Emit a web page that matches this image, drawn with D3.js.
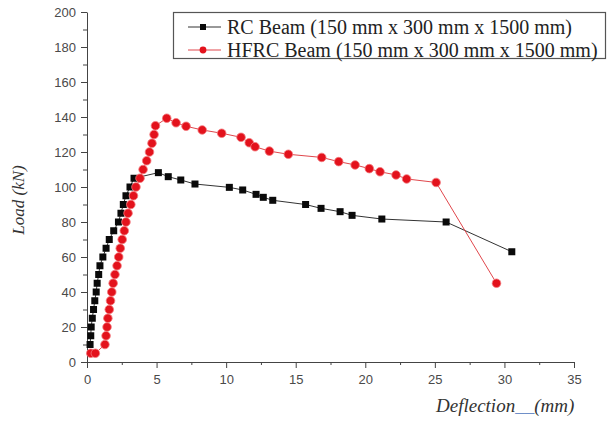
<!DOCTYPE html>
<html>
<head>
<meta charset="utf-8">
<script src="https://cdn.jsdelivr.net/npm/d3@7"></script>
<style>
  body { margin: 0; background: #fff; }
  svg { display: block; }
</style>
</head>
<body>
<div id="chart"></div>
<script>
/* global d3 */
var xTicks = [0, 5, 10, 15, 20, 25, 30, 35];
var yTicks = [0, 20, 40, 60, 80, 100, 120, 140, 160, 180, 200];

var rcLabel = "RC Beam (150 mm x 300 mm x 1500 mm)";
var hfrcLabel = "HFRC Beam (150 mm x 300 mm x 1500 mm)";

// RC beam, deflection (mm) / load (kN)
var rcDeflection = [0.22, 0.27, 0.30, 0.38, 0.47, 0.56, 0.66, 0.73, 0.84, 0.93,
  1.14, 1.37, 1.60, 1.92, 2.26, 2.44, 2.61, 2.80, 3.09, 3.38,
  5.13, 5.84, 6.74, 7.76, 10.23, 11.19, 12.15, 12.67, 13.35, 15.71,
  16.82, 18.19, 19.05, 21.19, 25.81, 30.53];
var rcLoad = [10, 15, 20, 25, 30, 35, 40, 45, 50, 55,
  60, 65, 70, 75, 80, 85, 90, 95, 100, 105,
  108.2, 105.9, 104, 101.7, 99.8, 98.3, 95.8, 94.1, 92.4, 90,
  87.8, 85.9, 83.8, 81.7, 80, 63];

// HFRC beam, deflection (mm) / load (kN)
var hfrcDeflection = [0.27, 0.6, 1.29, 1.37, 1.44, 1.50, 1.60, 1.69, 1.78, 1.88,
  2.01, 2.16, 2.28, 2.39, 2.53, 2.68, 2.80, 2.95, 3.15, 3.34,
  3.52, 3.81, 4.03, 4.29, 4.49, 4.67, 4.82, 4.92, 5.73, 6.40,
  7.12, 8.28, 9.68, 11.07, 11.66, 12.08, 13.11, 14.47, 16.87, 18.09,
  19.27, 20.29, 21.06, 22.21, 22.97, 25.09, 29.43];
var hfrcLoad = [5, 5, 10, 15, 20, 25, 30, 35, 40, 45,
  50, 55, 60, 65, 70, 75, 80, 85, 90, 95,
  100, 105, 110, 115, 120, 125, 130, 135, 139.3, 136.7,
  134.7, 132.6, 130.7, 128.4, 125.3, 123, 120.5, 118.7, 116.9, 114.5,
  112.6, 110.5, 108.7, 106.9, 104.6, 102.6, 45];

var width = 608,
  height = 421,
  margin = {top: 12, right: 34, bottom: 59, left: 87};

var svg = d3.select("#chart").append("svg")
  .attr("width", width)
  .attr("height", height);

var xScale = d3.scaleLinear().domain([0, 35]).range([margin.left, width - margin.right]);
var yScale = d3.scaleLinear().domain([0, 200]).range([height - margin.bottom, margin.top]);

function pairs(xs, ys) {
  return xs.map(function (d, i) { return [d, ys[i]]; });
}
var rcData = pairs(rcDeflection, rcLoad);
var hfrcData = pairs(hfrcDeflection, hfrcLoad);

// minor ticks first, majors drawn over them
svg.append("g")
  .attr("transform", "translate(0," + yScale(0) + ")")
  .call(d3.axisBottom(xScale).tickValues(d3.range(2.5, 35, 5)).tickSize(3).tickFormat(""))
  .call(function (g) { g.select(".domain").remove(); });
svg.append("g")
  .attr("transform", "translate(" + xScale(0) + ",0)")
  .call(d3.axisLeft(yScale).tickValues(d3.range(10, 200, 20)).tickSize(4).tickFormat(""))
  .call(function (g) { g.select(".domain").remove(); });

svg.append("g")
  .attr("class", "x axis")
  .attr("transform", "translate(0," + yScale(0) + ")")
  .call(d3.axisBottom(xScale).tickValues(xTicks).tickSize(6).tickSizeOuter(0).tickPadding(7));

svg.append("g")
  .attr("class", "y axis")
  .attr("transform", "translate(" + xScale(0) + ",0)")
  .call(d3.axisLeft(yScale).tickValues(yTicks).tickSize(6).tickSizeOuter(0).tickPadding(5));

svg.selectAll(".axis text")
  .style("font-family", "Arial, 'Liberation Sans', sans-serif")
  .style("font-size", "13px")
  .attr("fill", "#4a4a4a");
svg.selectAll("path.domain, .tick line").attr("stroke", "#444");

// axis titles
svg.append("text")
  .attr("transform", "translate(24," + 200 + ") rotate(-90)")
  .attr("text-anchor", "middle")
  .style("font-family", "'Liberation Serif', 'Times New Roman', serif")
  .style("font-style", "italic")
  .style("font-size", "17px")
  .attr("fill", "#333")
  .text("Load (kN)");

var xTitle = svg.append("text")
  .attr("x", 436)
  .attr("y", 412)
  .style("font-family", "'Liberation Serif', 'Times New Roman', serif")
  .style("font-style", "italic")
  .style("font-size", "19px")
  .attr("fill", "#333");
xTitle.append("tspan").text("Deflection");
xTitle.append("tspan").attr("fill", "#6f8fc8").text("__");
xTitle.append("tspan").text("(mm)");

// series lines
var line = d3.line()
  .x(function (d) { return xScale(d[0]); })
  .y(function (d) { return yScale(d[1]); });

svg.append("path")
  .datum(rcData)
  .attr("fill", "none")
  .attr("stroke", "#333")
  .attr("stroke-width", 1)
  .attr("d", line);

svg.append("path")
  .datum(hfrcData)
  .attr("fill", "none")
  .attr("stroke", "#e0474c")
  .attr("stroke-width", 1)
  .attr("d", line);

// markers
svg.append("g").selectAll("rect")
  .data(rcData)
  .enter().append("rect")
  .attr("x", function (d) { return xScale(d[0]) - 3.5; })
  .attr("y", function (d) { return yScale(d[1]) - 3.5; })
  .attr("width", 7)
  .attr("height", 7)
  .attr("fill", "#0a0a0a");

svg.append("g").selectAll("circle")
  .data(hfrcData)
  .enter().append("circle")
  .attr("cx", function (d) { return xScale(d[0]); })
  .attr("cy", function (d) { return yScale(d[1]); })
  .attr("r", 4.3)
  .attr("fill", "#e3121c")
  .attr("stroke", "#f47a7e")
  .attr("stroke-width", 0.8);

// legend
var legend = svg.append("g").attr("class", "legend");
legend.append("rect")
  .attr("x", 173.5)
  .attr("y", 12.5)
  .attr("width", 432)
  .attr("height", 46)
  .attr("fill", "#fff")
  .attr("stroke", "#555")
  .attr("stroke-width", 1.2);

var rows = [
  {label: rcLabel, color: "#333", y: 27, shape: "square"},
  {label: hfrcLabel, color: "#e0474c", y: 50, shape: "circle"}
];

var row = legend.selectAll(".row")
  .data(rows)
  .enter().append("g")
  .attr("class", "row")
  .attr("transform", function (d) { return "translate(0," + d.y + ")"; });

row.append("line")
  .attr("x1", 188).attr("x2", 221)
  .attr("stroke", function (d) { return d.color; })
  .attr("stroke-width", 1);

row.each(function (d) {
  var g = d3.select(this);
  if (d.shape === "square") {
    g.append("rect").attr("x", 200).attr("y", -3).attr("width", 6).attr("height", 6).attr("fill", "#0a0a0a");
  } else {
    g.append("circle").attr("cx", 203).attr("r", 3.4).attr("fill", "#e3121c");
  }
});

row.append("text")
  .attr("x", 227)
  .attr("dy", "0.35em")
  .style("font-family", "'Liberation Serif', 'Times New Roman', serif")
  .style("font-size", "20px")
  .attr("fill", "#222")
  .text(function (d) { return d.label; });
</script>
</body>
</html>
